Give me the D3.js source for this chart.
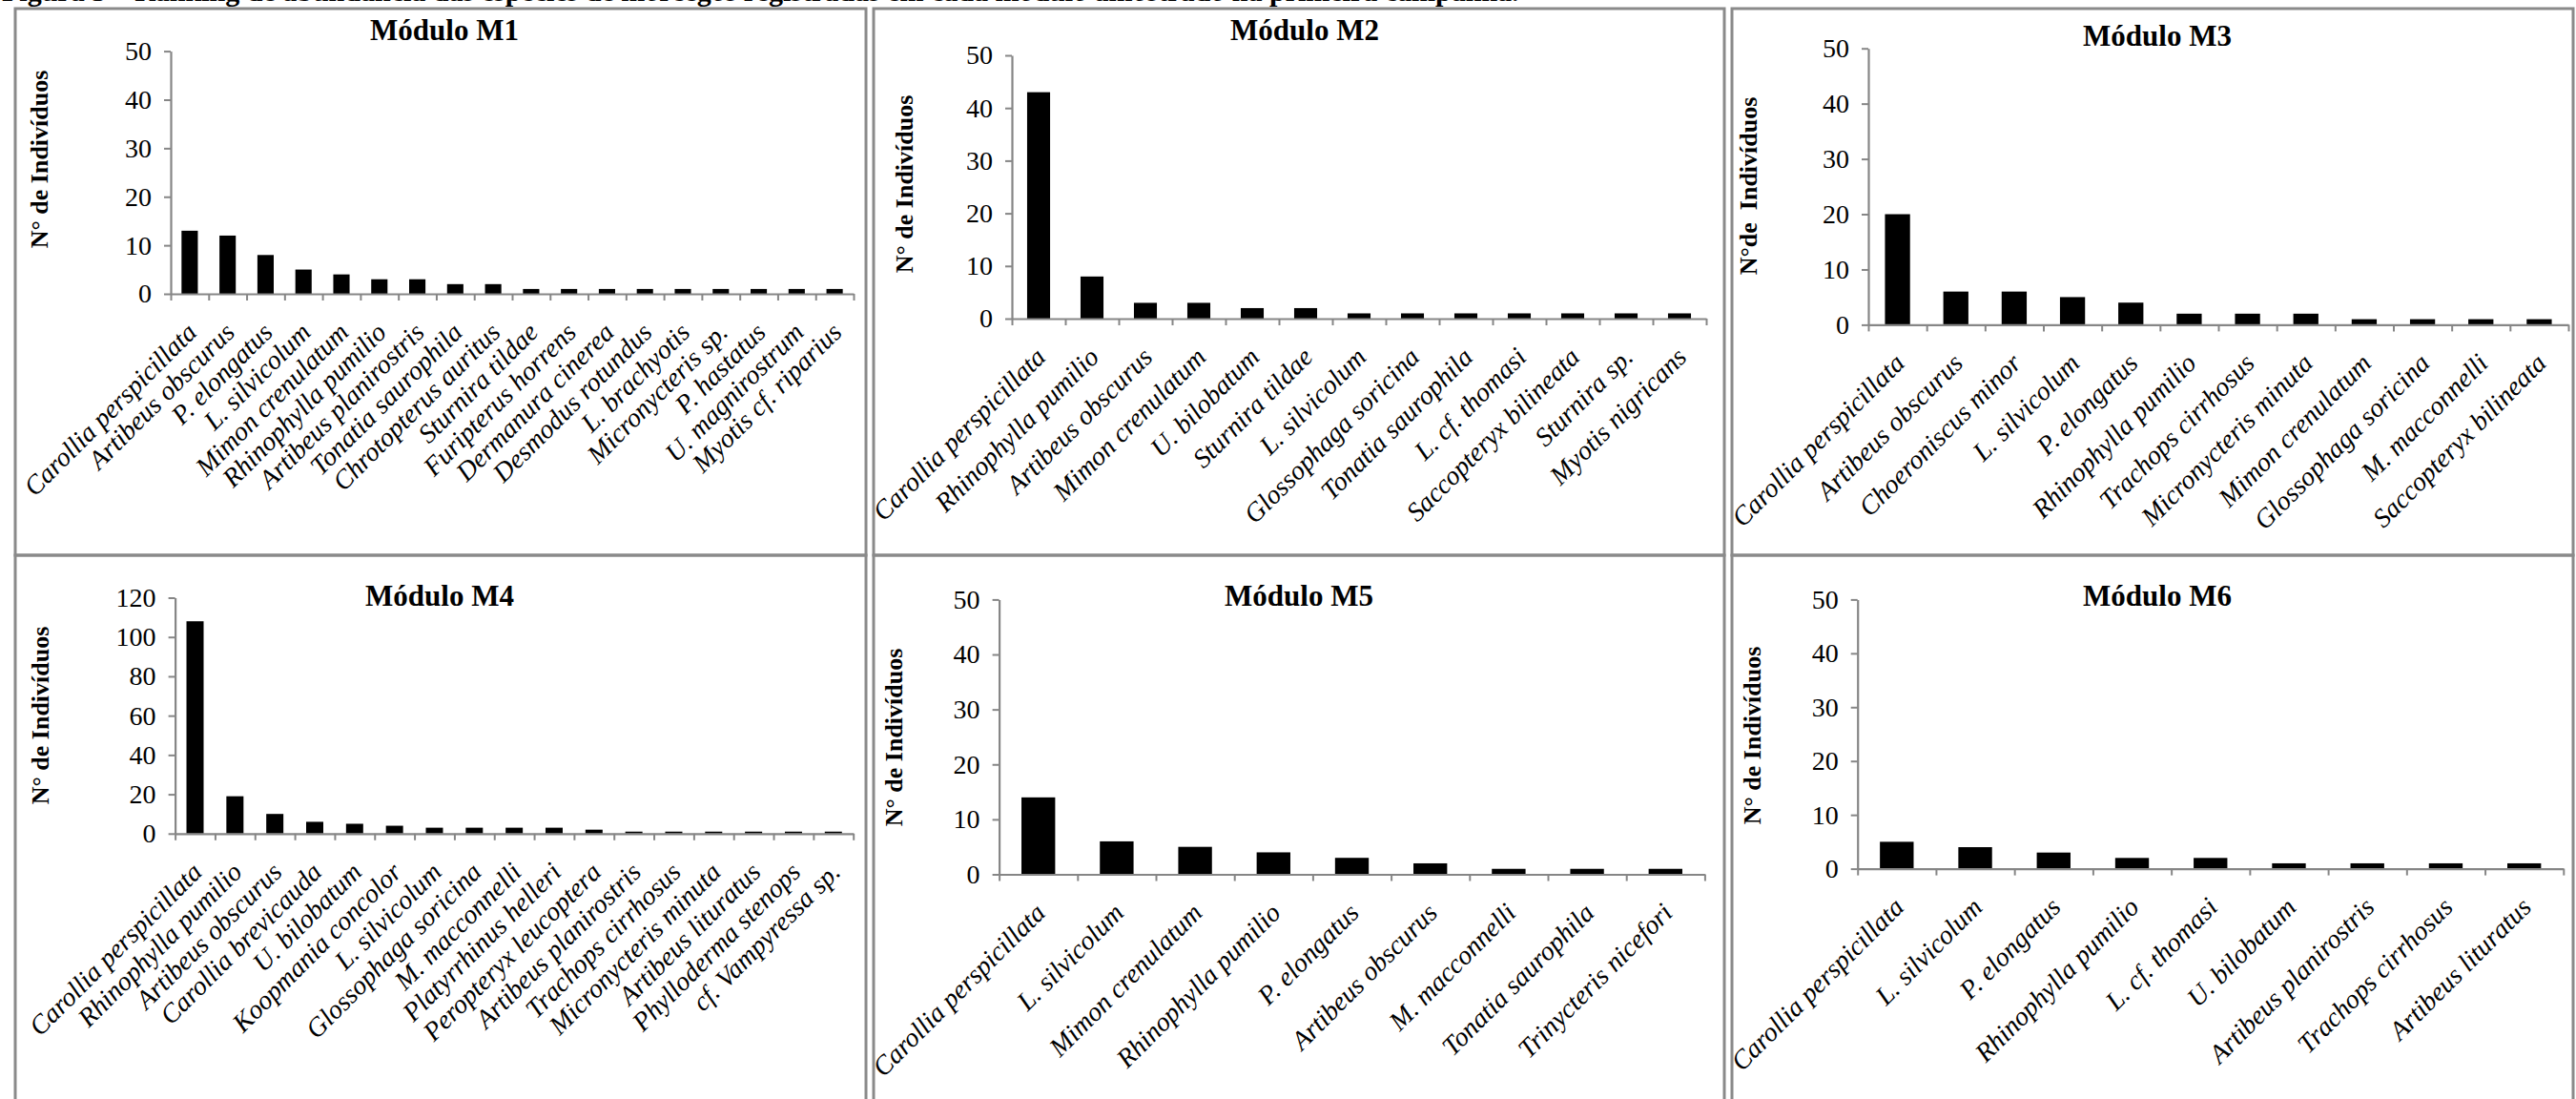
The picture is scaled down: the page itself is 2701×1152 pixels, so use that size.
<!DOCTYPE html>
<html>
<head>
<meta charset="utf-8">
<script src="https://cdn.jsdelivr.net/npm/d3@7"></script>
<style>
  html, body { margin: 0; padding: 0; background: #fff; }
  svg { display: block; }
  text { font-family: "Liberation Serif", "Times New Roman", serif; fill: #000; }
</style>
</head>
<body>
<svg id="fig" width="2701" height="1152"></svg>
<script>
// ---- Abundance per species in each module ----
const m1Species = ["Carollia perspicillata", "Artibeus obscurus", "P. elongatus", "L. silvicolum",
  "Mimon crenulatum", "Rhinophylla pumilio", "Artibeus planirostris", "Tonatia saurophila",
  "Chrotopterus auritus", "Sturnira tildae", "Furipterus horrens", "Dermanura cinerea",
  "Desmodus rotundus", "L. brachyotis", "Micronycteris sp.", "P. hastatus",
  "U. magnirostrum", "Myotis cf. riparius"];
const m1Counts = [13, 12, 8, 5, 4, 3, 3, 2, 2, 1, 1, 1, 1, 1, 1, 1, 1, 1];

const m2Species = ["Carollia perspicillata", "Rhinophylla pumilio", "Artibeus obscurus",
  "Mimon crenulatum", "U. bilobatum", "Sturnira tildae", "L. silvicolum",
  "Glossophaga soricina", "Tonatia saurophila", "L. cf. thomasi",
  "Saccopteryx bilineata", "Sturnira sp.", "Myotis nigricans"];
const m2Counts = [43, 8, 3, 3, 2, 2, 1, 1, 1, 1, 1, 1, 1];

const m3Species = ["Carollia perspicillata", "Artibeus obscurus", "Choeroniscus minor",
  "L. silvicolum", "P. elongatus", "Rhinophylla pumilio", "Trachops cirrhosus",
  "Micronycteris minuta", "Mimon crenulatum", "Glossophaga soricina",
  "M. macconnelli", "Saccopteryx bilineata"];
const m3Counts = [20, 6, 6, 5, 4, 2, 2, 2, 1, 1, 1, 1];

const m4Species = ["Carollia perspicillata", "Rhinophylla pumilio", "Artibeus obscurus",
  "Carollia brevicauda", "U. bilobatum", "Koopmania concolor", "L. silvicolum",
  "Glossophaga soricina", "M. macconnelli", "Platyrrhinus helleri",
  "Peropteryx leucoptera", "Artibeus planirostris", "Trachops cirrhosus",
  "Micronycteris minuta", "Artibeus lituratus", "Phylloderma stenops", "cf. Vampyressa sp."];
const m4Counts = [108, 19, 10, 6, 5, 4, 3, 3, 3, 3, 2, 1, 1, 1, 1, 1, 1];

const m5Species = ["Carollia perspicillata", "L. silvicolum", "Mimon crenulatum",
  "Rhinophylla pumilio", "P. elongatus", "Artibeus obscurus", "M. macconnelli",
  "Tonatia saurophila", "Trinycteris nicefori"];
const m5Counts = [14, 6, 5, 4, 3, 2, 1, 1, 1];

const m6Species = ["Carollia perspicillata", "L. silvicolum", "P. elongatus",
  "Rhinophylla pumilio", "L. cf. thomasi", "U. bilobatum", "Artibeus planirostris",
  "Trachops cirrhosus", "Artibeus lituratus"];
const m6Counts = [5, 4, 3, 2, 2, 1, 1, 1, 1];

// y-axis tick labels of each module
const ticks50 = [0, 10, 20, 30, 40, 50];
const ticks120 = [0, 20, 40, 60, 80, 100, 120];

const titles = ["Módulo M1", "Módulo M2", "Módulo M3", "Módulo M4", "Módulo M5", "Módulo M6"];
const yTitles = ["N° de Indivíduos", "N° de Indivíduos", "N°de\u00a0\u00a0Indivíduos",
  "N° de Indivíduos", "N° de Indivíduos", "N° de Indivíduos"];
const caption = "Figura 5 – Ranking de abundância das espécies de morcegos registradas em cada módulo amostrado na primeira campanha.";

const speciesSets = [m1Species, m2Species, m3Species, m4Species, m5Species, m6Species];
const countSets = [m1Counts, m2Counts, m3Counts, m4Counts, m5Counts, m6Counts];
const tickSets = [ticks50, ticks50, ticks50, ticks120, ticks50, ticks50];

// ---- Page layout: frames and plot areas ----
const frames = [
  { x0: 16, x1: 908, y0: 9, y1: 582 },
  { x0: 916, x1: 1808, y0: 9, y1: 582 },
  { x0: 1816, x1: 2698, y0: 9, y1: 582 },
  { x0: 16, x1: 908, y0: 582, y1: 1160 },
  { x0: 916, x1: 1808, y0: 582, y1: 1160 },
  { x0: 1816, x1: 2698, y0: 582, y1: 1160 }
];
const plots = [
  { left: 179, right: 895, top: 53.6, bottom: 308, titleX: 466, titleY: 42, ylx: 41, yly: 167 },
  { left: 1061, right: 1789, top: 58, bottom: 334, titleX: 1368, titleY: 42, ylx: 948, yly: 193 },
  { left: 1959, right: 2693, top: 50.7, bottom: 340.4, titleX: 2262, titleY: 48, ylx: 1833, yly: 195 },
  { left: 183.6, right: 894.7, top: 626.5, bottom: 873.8, titleX: 461, titleY: 635, ylx: 42, yly: 750 },
  { left: 1047.6, right: 1787.4, top: 628.4, bottom: 916.5, titleX: 1362, titleY: 635, ylx: 937, yly: 773 },
  { left: 1947.7, right: 2687.8, top: 628.4, bottom: 910.6, titleX: 2262, titleY: 635, ylx: 1837, yly: 771 }
];

const AXIS = "#868686";
const svg = d3.select("#fig");
svg.append("rect").attr("width", 2701).attr("height", 1152).attr("fill", "#fff");

// caption line running off the top edge
svg.append("text")
  .attr("x", 2).attr("y", 1)
  .attr("font-size", 30).attr("font-weight", "bold")
  .text(caption);

// panel frames
frames.forEach(f => {
  svg.append("rect")
    .attr("x", f.x0).attr("y", f.y0)
    .attr("width", f.x1 - f.x0).attr("height", f.y1 - f.y0)
    .attr("fill", "none").attr("stroke", "#8a8a8a").attr("stroke-width", 3);
});

plots.forEach((p, i) => {
  const species = speciesSets[i];
  const counts = countSets[i];
  const tv = tickSets[i];
  const g = svg.append("g");

  const x = d3.scaleBand().domain(species).range([p.left, p.right])
    .paddingInner(0.57).paddingOuter(0.285);
  const xEdge = d3.scaleLinear().domain([0, species.length]).range([p.left, p.right]);
  const y = d3.scaleLinear().domain([0, d3.max(tv)]).range([p.bottom, p.top]);

  // bars
  g.selectAll("rect.bar").data(species).join("rect")
    .attr("class", "bar")
    .attr("x", d => x(d))
    .attr("width", x.bandwidth())
    .attr("y", (d, k) => y(counts[k]))
    .attr("height", (d, k) => y(0) - y(counts[k]))
    .attr("fill", "#000");

  // y axis
  const ya = g.append("g").attr("transform", `translate(${p.left},0)`)
    .call(d3.axisLeft(y).tickValues(tv).tickSize(7).tickPadding(13).tickSizeOuter(0));
  ya.select(".domain").attr("stroke", AXIS).attr("stroke-width", 2.2);
  ya.selectAll(".tick line").attr("stroke", AXIS).attr("stroke-width", 2);
  ya.selectAll(".tick text")
    .attr("font-family", "'Liberation Serif', 'Times New Roman', serif")
    .attr("font-size", 28).attr("fill", "#000");

  // x axis with tick marks on band edges
  const xa = g.append("g").attr("transform", `translate(0,${p.bottom})`)
    .call(d3.axisBottom(xEdge).tickValues(d3.range(species.length + 1))
      .tickSize(7).tickSizeOuter(0).tickFormat(""));
  xa.select(".domain").attr("stroke", AXIS).attr("stroke-width", 2.2);
  xa.selectAll(".tick line").attr("stroke", AXIS).attr("stroke-width", 2);

  // category labels, slanted
  g.selectAll("text.cat").data(species).join("text")
    .attr("class", "cat")
    .attr("transform", d => `translate(${x(d) + x.bandwidth() / 2 + 9},${p.bottom + 42}) rotate(-45)`)
    .attr("text-anchor", "end")
    .attr("font-style", "italic")
    .attr("font-size", 28)
    .text(d => d);

  // title
  g.append("text")
    .attr("x", p.titleX).attr("y", p.titleY)
    .attr("text-anchor", "middle")
    .attr("font-weight", "bold").attr("font-size", 31)
    .text(titles[i]);

  // y axis title
  g.append("text")
    .attr("transform", `translate(${p.ylx},${p.yly}) rotate(-90)`)
    .attr("text-anchor", "middle").attr("dy", "0.35em")
    .attr("font-weight", "bold").attr("font-size", 26)
    .attr("xml:space", "preserve")
    .text(yTitles[i]);
});
</script>
</body>
</html>
